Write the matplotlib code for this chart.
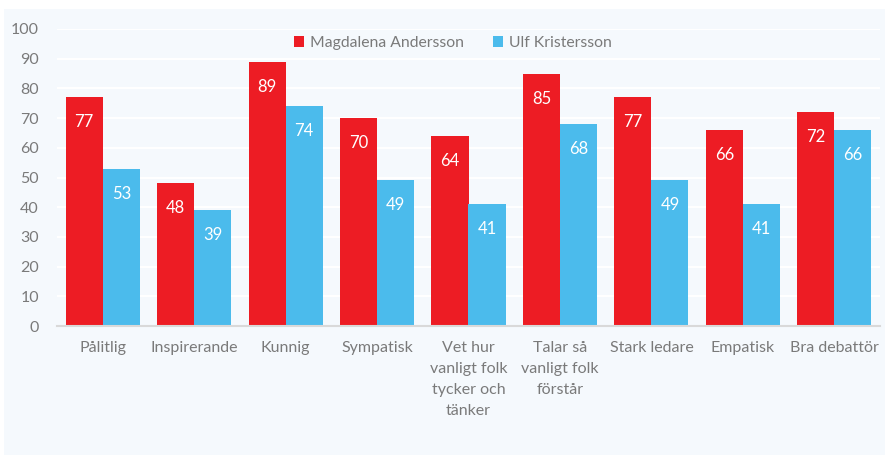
import matplotlib.pyplot as plt
import numpy as np

# Data
categories = ["Pålitlig", "Inspirerande", "Kunnig", "Sympatisk",
              "Vet hur\nvanligt folk\ntycker och\ntänker",
              "Talar så\nvanligt folk\nförstår", "Stark ledare",
              "Empatisk", "Bra debattör"]
andersson = [77, 48, 89, 70, 64, 85, 77, 66, 72]
kristersson = [53, 39, 74, 49, 41, 68, 49, 41, 66]

red = "#ED1C24"
blue = "#4BBBEC"
panel = "#F5F9FD"
textc = "#7A7A7A"

plt.rcParams['font.family'] = ['Lato', 'DejaVu Sans']

fig = plt.figure(figsize=(8.9, 4.57), dpi=100)
fig.patch.set_facecolor("white")
# light panel behind the whole chart
fig.patches.append(plt.Rectangle((4 / 890, 2 / 457), 881 / 890, 446 / 457,
                                 transform=fig.transFigure, facecolor=panel,
                                 edgecolor="none", zorder=-1))

ax = fig.add_axes([57 / 890, 1 - 326 / 457, 823 / 890, 297 / 457])
ax.set_facecolor(panel)

x = np.arange(len(categories))
w = 0.405
b1 = ax.bar(x - w / 2, andersson, w, color=red, label="Magdalena Andersson", zorder=3)
b2 = ax.bar(x + w / 2, kristersson, w, color=blue, label="Ulf Kristersson", zorder=3)

for bars, vals in ((b1, andersson), (b2, kristersson)):
    for r, v in zip(bars, vals):
        ax.annotate(str(v), (r.get_x() + r.get_width() / 2, v),
                    xytext=(0, -25), textcoords="offset pixels",
                    ha="center", va="center", color="white", fontsize=12, zorder=4)

ax.set_xlim(-0.5, len(categories) - 0.5)
ax.set_ylim(0, 100)
ax.set_yticks(range(0, 101, 10))
ax.grid(axis="y", color="white", linewidth=1.5, zorder=1)
for s in ("top", "right", "left"):
    ax.spines[s].set_visible(False)
ax.spines["bottom"].set_color("#D9D9D9")
ax.spines["bottom"].set_linewidth(1.5)
ax.spines["bottom"].set_zorder(5)
ax.tick_params(axis="both", length=0, colors=textc, labelsize=11.5)
ax.tick_params(axis="y", pad=13)
ax.tick_params(axis="x", pad=11)
ax.set_xticks(x)
ax.set_xticklabels(categories, linespacing=1.62, va="top")

ax.legend(loc="center", bbox_to_anchor=(0.481, 1 - 14 / 297), ncol=2, frameon=False,
          fontsize=11.3, labelcolor=textc, handlelength=0.65, handleheight=0.65,
          columnspacing=1.8, handletextpad=0.4)

fig.savefig("out.png", dpi=100, facecolor="white")
